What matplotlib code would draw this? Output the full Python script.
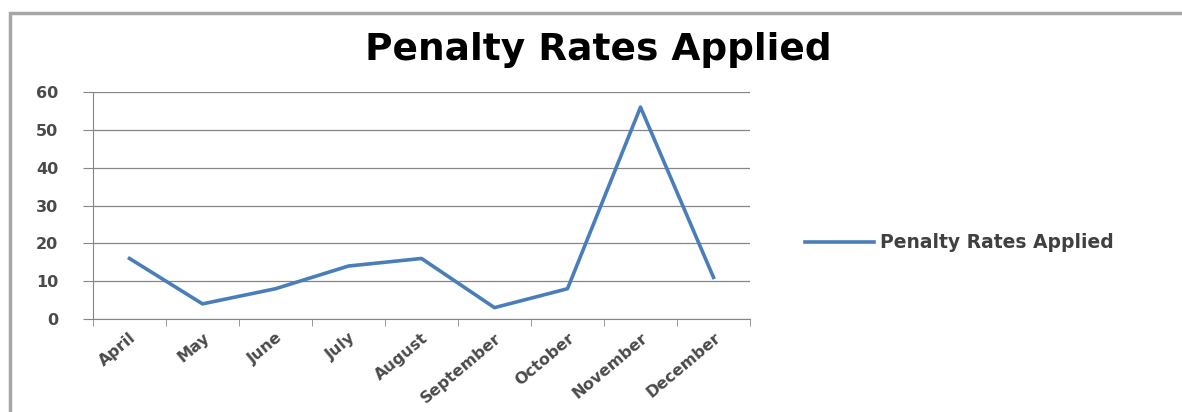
import matplotlib
matplotlib.use("Agg")
import matplotlib.pyplot as plt
from matplotlib.patches import Rectangle

plt.rcParams['font.family'] = ['DejaVu Sans']

months = ["April", "May", "June", "July", "August", "September",
          "October", "November", "December"]
penalties = [16, 4, 8, 14, 16, 3, 8, 56, 11]
y_ticks = [0, 10, 20, 30, 40, 50, 60]

fig = plt.figure(figsize=(11.82, 4.12), dpi=100)

# chart frame (gray border, runs off the right and bottom edges)
fig.patches.append(Rectangle((10 / 1182, -0.1), 1.2, 1 - 13 / 412 + 0.1,
                             transform=fig.transFigure, fill=False,
                             edgecolor="#a6a6a6", linewidth=2.5))

ax = fig.add_axes([93 / 1182, 1 - 319 / 412, 657 / 1182, 227 / 412])
x = list(range(len(months)))
line, = ax.plot(x, penalties, color="#4a7ebb", linewidth=2.6,
                label="Penalty Rates Applied")

ax.set_xlim(-0.5, len(months) - 0.5)
ax.set_ylim(0, 60)
ax.set_yticks(y_ticks)
ax.set_xticks(x)
ax.set_xticklabels(months, rotation=40, ha="right", rotation_mode="anchor",
                   fontweight="bold")
ax.set_yticklabels([str(v) for v in y_ticks], fontweight="bold")
ax.set_xticks([i - 0.5 for i in range(len(months) + 1)], minor=True)
ax.tick_params(axis="x", which="major", length=0, pad=8, labelsize=11.5,
               labelcolor="#4a4a4a")
ax.tick_params(axis="x", which="minor", length=5, color="#868686")
ax.tick_params(axis="y", length=7, color="#868686", labelsize=11.5,
               labelcolor="#4a4a4a", pad=18)

ax.grid(axis="y", color="#868686", linewidth=0.9)
ax.set_axisbelow(True)
for side in ["top", "right"]:
    ax.spines[side].set_visible(False)
for side in ["left", "bottom"]:
    ax.spines[side].set_color("#868686")

fig.text(598 / 1182, 1 - 50 / 412, "Penalty Rates Applied", ha="center",
         va="center", fontsize=27, fontweight="bold", color="#000000")

fig.legend(handles=[line], loc="center left",
           bbox_to_anchor=(788 / 1182, 1 - 243 / 412), frameon=False,
           handlelength=3.7, handletextpad=0.3,
           prop={"weight": "bold", "size": 13.5},
           labelcolor="#404040")

fig.savefig("out.png", dpi=100)
